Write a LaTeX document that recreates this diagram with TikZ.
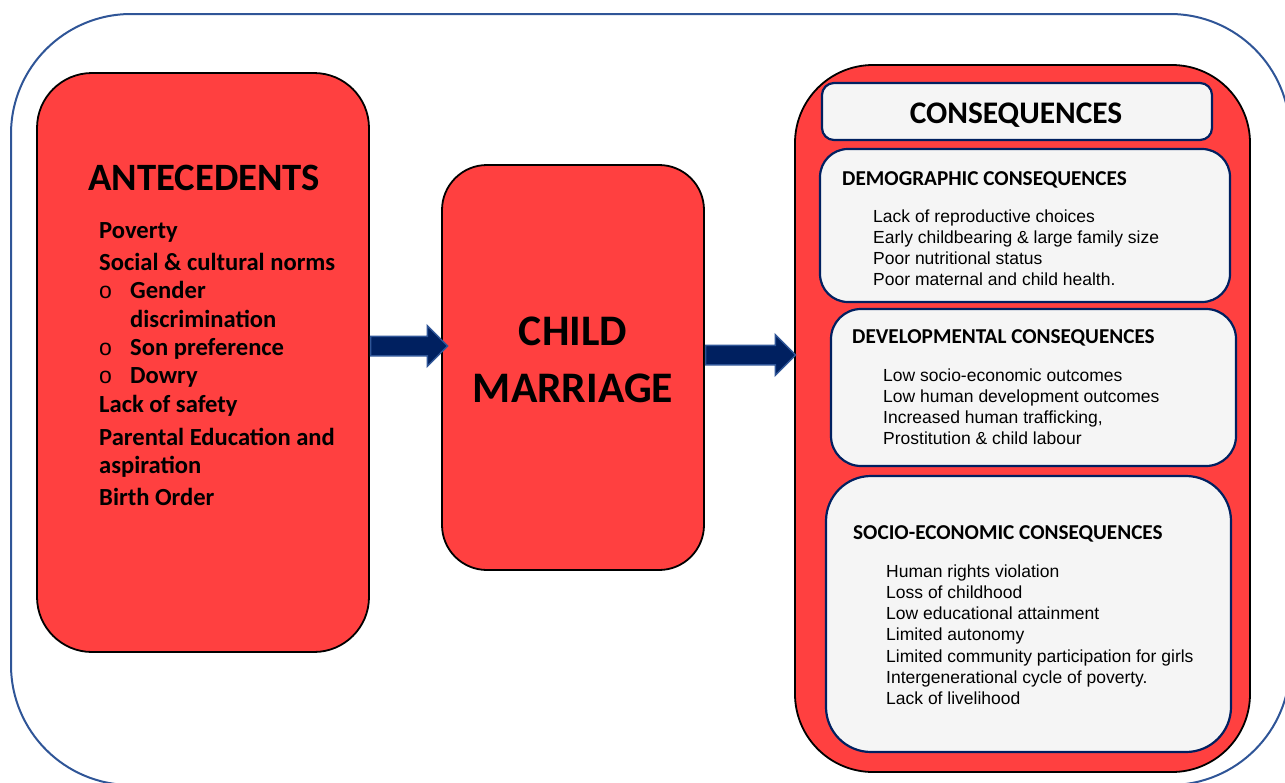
\documentclass[tikz,border=0pt]{standalone}
\usepackage{fontspec}
\setmainfont{Carlito}
\newfontfamily\arialfont{Liberation Sans}
\usetikzlibrary{shapes.arrows,positioning}
\definecolor{boxred}{RGB}{255,64,64}
\definecolor{boxgrey}{RGB}{245,245,245}
\definecolor{navy}{RGB}{0,32,96}
\definecolor{frameblue}{RGB}{47,85,151}
\begin{document}
\begin{tikzpicture}[x=1pt,y=-1pt,
    redbox/.style={draw=black,line width=1.8pt,fill=boxred,rounded corners=#1},
    greybox/.style={draw=navy,line width=2.2pt,fill=boxgrey,rounded corners=#1},
    bigtitle/.style={anchor=base,inner sep=0pt,font=\bfseries\fontsize{#1}{#1}\selectfont},
    heading/.style={anchor=base west,inner sep=0pt,font=\bfseries\fontsize{21.2}{25}\selectfont},
    item/.style={anchor=base west,inner sep=0pt,font=\arialfont\fontsize{17.5}{21}\selectfont},
    cause/.style={anchor=base west,inner sep=0pt,font=\bfseries\fontsize{24.6}{28}\selectfont},
    bulletmark/.style={anchor=base west,inner sep=0pt,font=\arialfont\fontsize{23}{26}\selectfont},
    fatarrow/.style={single arrow,draw=frameblue,line width=1.5pt,fill=navy,
      inner xsep=0pt,inner ysep=9pt,single arrow head extend=10.5pt,
      minimum height=#1,anchor=tail}]
  \useasboundingbox (0,0) rectangle (1285,782);
  \begin{scope}
    \clip (0,0) rectangle (1285,782);
    \draw[frameblue,line width=2pt,rounded corners=120pt] (11,14) rectangle (1290,785);
  \end{scope}

  % boxes
  \node[redbox=55pt,minimum width=332pt,minimum height=579pt] (ante) at (203,362.5) {};
  \node[redbox=45pt,minimum width=262pt,minimum height=405pt] (child) at (573,367.5) {};
  \node[redbox=78pt,minimum width=455pt,minimum height=707pt] (cons) at (1022.5,418.5) {};
  \node[greybox=12pt,minimum width=390pt,minimum height=57pt] (title) at (1017,111.5) {};
  \node[greybox=28pt,minimum width=410pt,minimum height=153pt] (demo) at (1025,225.5) {};
  \node[greybox=30pt,minimum width=405pt,minimum height=157pt] (dev) at (1033.5,387.5) {};
  \node[greybox=45pt,minimum width=405pt,minimum height=276pt] (socio) at (1028.5,614) {};

  % antecedents
  \node[anchor=base west,inner sep=0pt,font=\bfseries\fontsize{38.7}{44}\selectfont] (antehead) at (88,190) {ANTECEDENTS};
  \node[cause] (c1) at (99,238) {Poverty};
  \node[cause] (c2) at (99,270) {Social \& cultural norms};
  \node[bulletmark] (b1) at (99,298) {o};
  \node[cause] (c3) at (130,298) {Gender};
  \node[cause] (c4) at (130,327) {discrimination};
  \node[bulletmark] (b2) at (99,355) {o};
  \node[cause] (c5) at (130,355) {Son preference};
  \node[bulletmark] (b3) at (99,383) {o};
  \node[cause] (c6) at (130,383) {Dowry};
  \node[cause] (c7) at (99,412) {Lack of safety};
  \node[cause] (c8) at (99,445) {Parental Education and};
  \node[cause] (c9) at (99,473) {aspiration};
  \node[cause] (c10) at (99,505) {Birth Order};

  % child marriage
  \node[bigtitle=43.6] (cm1) at (573,345) {CHILD};
  \node[bigtitle=43.6] (cm2) at (573,402) {MARRIAGE};

  % consequences
  \node[bigtitle=31.4] (conshead) at (1016,123) {CONSEQUENCES};
  \node[heading] (demohead) at (842,185) {DEMOGRAPHIC CONSEQUENCES};
  \foreach \t [count=\i] in {Lack of reproductive choices,
      Early childbearing \& large family size, Poor nutritional status,
      Poor maternal and child health.}
    \node[item] (demo\i) at (873,{222+21*(\i-1)}) {\t};
  \node[heading] (devhead) at (852,343) {DEVELOPMENTAL CONSEQUENCES};
  \foreach \t [count=\i] in {Low socio-economic outcomes,
      Low human development outcomes, {Increased human trafficking,},
      Prostitution \& child labour}
    \node[item] (dev\i) at (883,{381+21*(\i-1)}) {\t};
  \node[heading] (sociohead) at (853,539) {SOCIO-ECONOMIC CONSEQUENCES};
  \foreach \t [count=\i] in {Human rights violation, Loss of childhood,
      Low educational attainment, Limited autonomy,
      Limited community participation for girls,
      Intergenerational cycle of poverty., Lack of livelihood}
    \node[item] (socio\i) at (886,{577+21.3*(\i-1)}) {\t};

  % arrows
  \node[fatarrow=77pt] (arrowin) at (ante.east |- 0,346) {};
  \node[fatarrow=90pt] (arrowout) at (child.east |- 0,355) {};
\end{tikzpicture}
\end{document}
